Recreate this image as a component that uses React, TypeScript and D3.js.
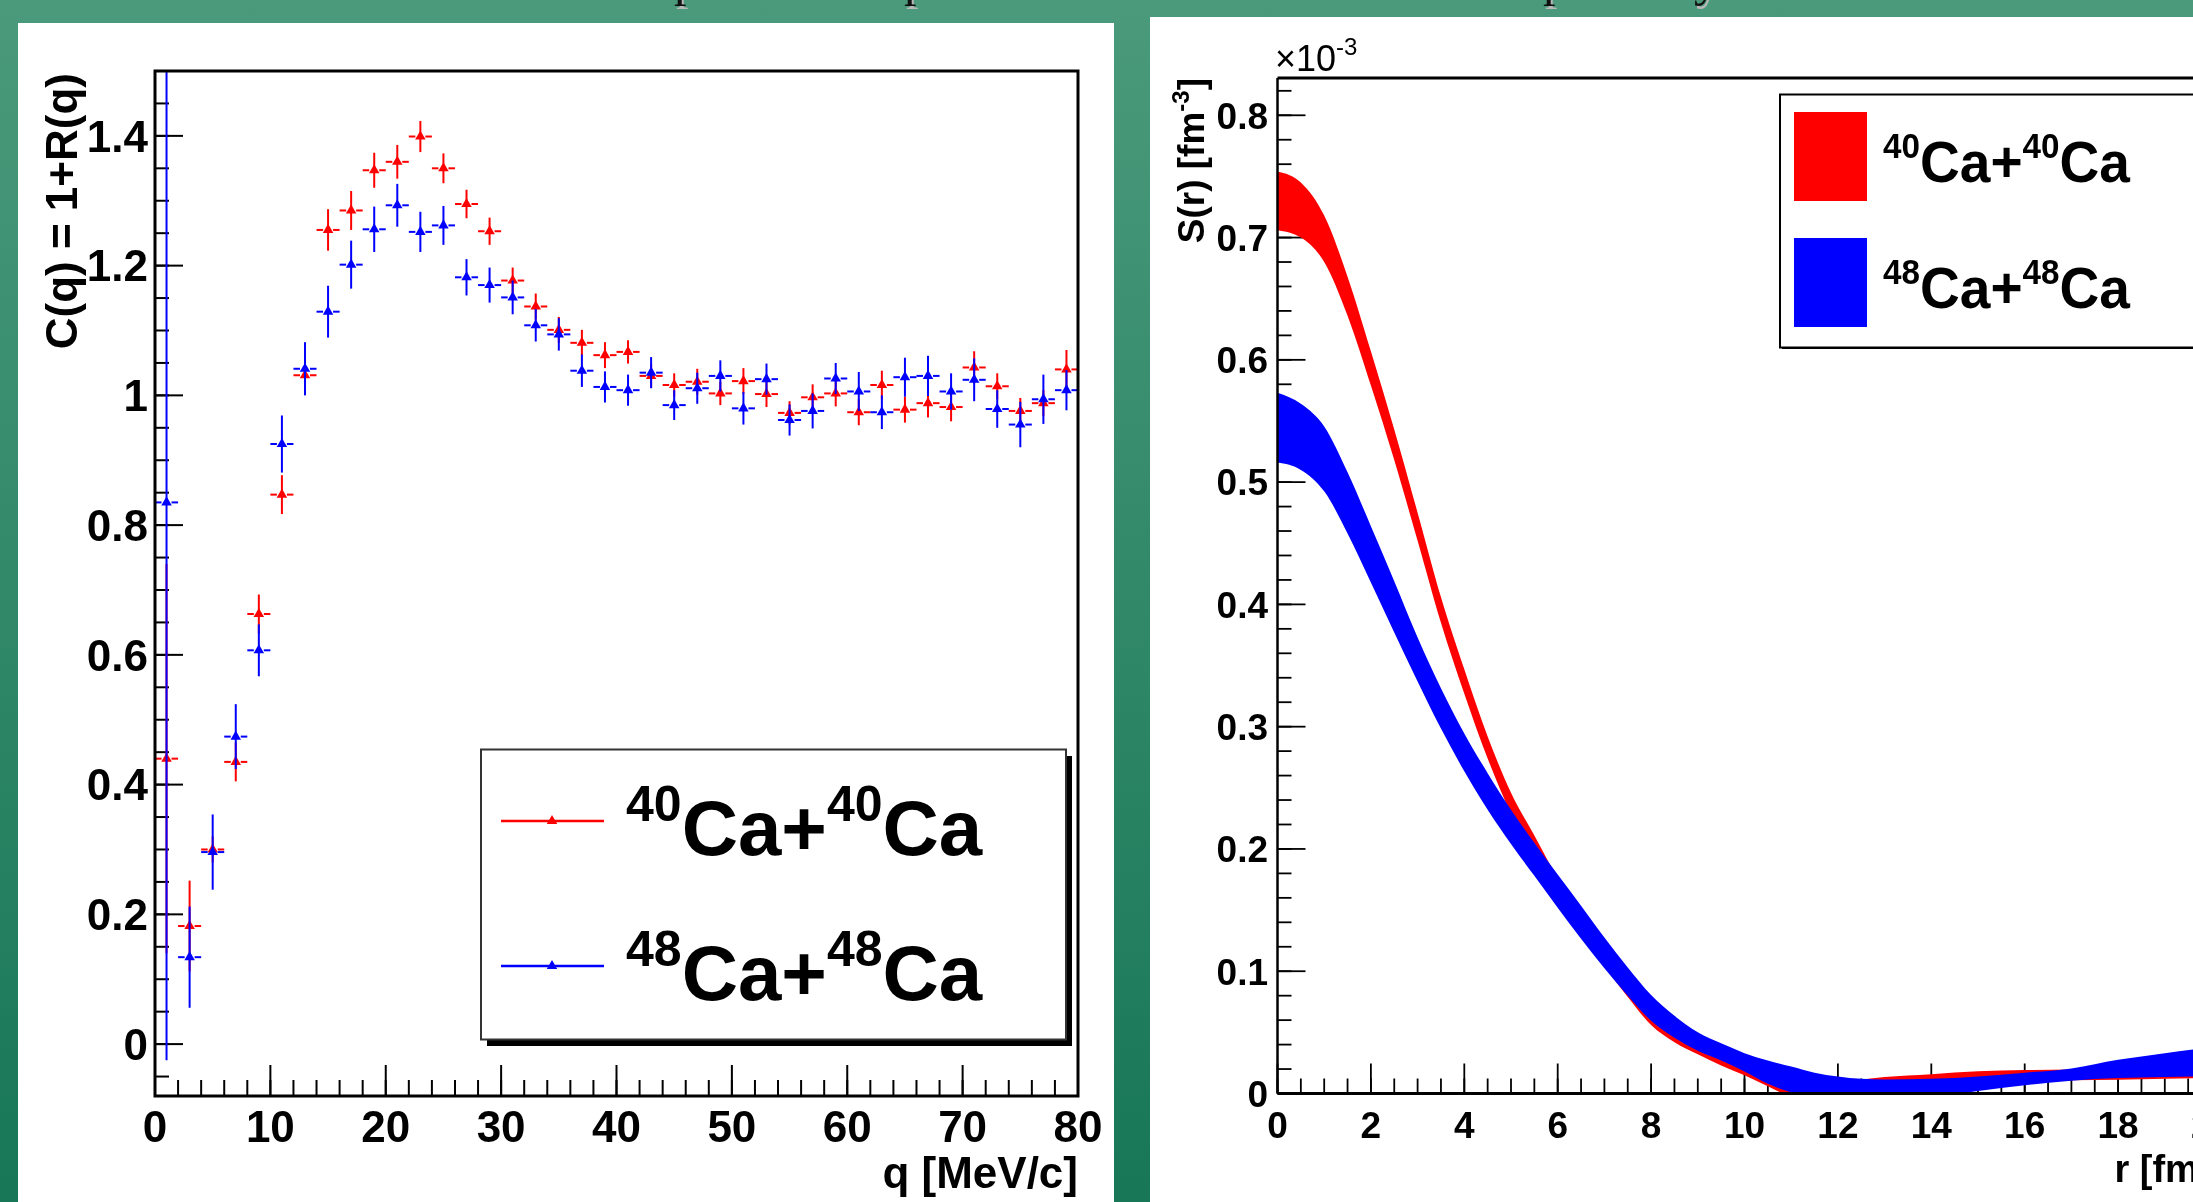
import React from "react";
import * as d3 from "d3";

// ---------------- Left panel data: correlation function C(q) ----------------
const qCenters = [1, 3, 5, 7, 9, 11, 13, 15, 17, 19, 21, 23, 25, 27, 29, 31, 33, 35, 37, 39,
  41, 43, 45, 47, 49, 51, 53, 55, 57, 59, 61, 63, 65, 67, 69, 71, 73, 75, 77, 79];
const qHalfWidth = 1;

const ca40 = [0.44, 0.182, 0.30, 0.435, 0.663, 0.847, 1.031, 1.255, 1.285, 1.347, 1.360, 1.399, 1.350,
  1.295, 1.253, 1.177, 1.137, 1.101, 1.081, 1.062, 1.067, 1.030, 1.016, 1.021, 1.003, 1.022, 1.002,
  0.973, 0.997, 1.003, 0.974, 1.016, 0.978, 0.988, 0.982, 1.043, 1.014, 0.976, 0.988, 1.040];
const ca40Err = [0.30, 0.07, 0.02, 0.03, 0.03, 0.03, 0.02, 0.032, 0.03, 0.027, 0.026, 0.024, 0.023,
  0.022, 0.021, 0.02, 0.02, 0.02, 0.02, 0.02, 0.018, 0.018, 0.018, 0.02, 0.018, 0.02, 0.02,
  0.018, 0.02, 0.02, 0.02, 0.022, 0.02, 0.022, 0.022, 0.025, 0.02, 0.02, 0.02, 0.03];

const ca48 = [0.835, 0.134, 0.296, 0.474, 0.607, 0.925, 1.041, 1.129, 1.2015, 1.256, 1.293, 1.252, 1.262,
  1.182, 1.17, 1.151, 1.108, 1.094, 1.038, 1.013, 1.008, 1.035, 0.985, 1.011, 1.030, 0.980, 1.025,
  0.962, 0.976, 1.026, 1.006, 0.974, 1.028, 1.030, 1.006, 1.024, 0.979, 0.955, 0.994, 1.008];
const ca48Err = [0.86, 0.078, 0.058, 0.05, 0.04, 0.044, 0.041, 0.04, 0.037, 0.035, 0.033, 0.031, 0.03,
  0.028, 0.027, 0.026, 0.025, 0.025, 0.025, 0.024, 0.024, 0.024, 0.023, 0.024, 0.024, 0.025, 0.024,
  0.024, 0.027, 0.024, 0.03, 0.026, 0.03, 0.031, 0.028, 0.033, 0.029, 0.035, 0.038, 0.031];

const leftYTicks = [0, 0.2, 0.4, 0.6, 0.8, 1, 1.2, 1.4];
const leftXTicks = [0, 10, 20, 30, 40, 50, 60, 70, 80];

// ---------------- Right panel data: source function S(r) bands (units of 1e-3 fm^-3) ----------------
const rGrid = [0, 0.5, 1, 1.5, 2, 2.5, 3, 3.5, 4, 4.5, 5, 5.5, 6, 6.5, 7, 7.5, 8, 8.5, 9, 9.5,
  10, 10.5, 11, 11.5, 12, 12.5, 13, 14, 15, 16, 17, 18, 19, 20];
const s40Low = [0.706, 0.700, 0.680, 0.636, 0.579, 0.518, 0.452, 0.385, 0.327, 0.274, 0.229, 0.195,
  0.161, 0.132, 0.104, 0.079, 0.056, 0.042, 0.032, 0.023, 0.015, 0.006, -0.002, -0.003, -0.001, 0.002,
  0.006, 0.009, 0.0105, 0.011, 0.0108, 0.0112, 0.012, 0.0128];
const s40High = [0.754, 0.745, 0.718, 0.668, 0.607, 0.543, 0.475, 0.406, 0.347, 0.292, 0.246, 0.211,
  0.176, 0.147, 0.118, 0.093, 0.070, 0.054, 0.043, 0.033, 0.024, 0.015, 0.008, 0.007, 0.009, 0.0115,
  0.0135, 0.0158, 0.0182, 0.0192, 0.0196, 0.0200, 0.0205, 0.021];
const s48Low = [0.516, 0.510, 0.4925, 0.458, 0.418, 0.377, 0.337, 0.2985, 0.2635, 0.232, 0.204, 0.178,
  0.152, 0.1265, 0.1025, 0.080, 0.0595, 0.0455, 0.035, 0.027, 0.018, 0.008, 0.001, -0.003, -0.005, -0.005,
  -0.005, -0.003, 0.002, 0.0068, 0.0105, 0.0126, 0.0135, 0.0142];
const s48High = [0.573, 0.564, 0.5455, 0.508, 0.464, 0.419, 0.373, 0.3315, 0.2945, 0.262, 0.232, 0.205,
  0.179, 0.1535, 0.1275, 0.103, 0.0805, 0.0635, 0.050, 0.041, 0.033, 0.027, 0.022, 0.017, 0.0139, 0.012,
  0.0115, 0.012, 0.014, 0.017, 0.0205, 0.0275, 0.033, 0.038];

const rightYTicks = [0, 0.1, 0.2, 0.3, 0.4, 0.5, 0.6, 0.7, 0.8];
const rightXTicks = [0, 2, 4, 6, 8, 10, 12, 14, 16, 18, 20];

const seriesNames = ["40", "48"];
const RED = "#ff0000";
const BLUE = "#0000ff";
const FONT = "'Liberation Sans', Arial, Helvetica, sans-serif";

function IsotopeLabel({ x, y, a, big, small, raise, sx = 1 }: any) {
  return (
    <g transform={`translate(${x},${y}) scale(${sx},1)`}>
      <text x={0} y={0} fontFamily={FONT} fontWeight="bold" fontSize={big} fill="#000">
        <tspan fontSize={small} dy={-raise}>{a}</tspan>
        <tspan dy={raise}>Ca+</tspan>
        <tspan fontSize={small} dy={-raise}>{a}</tspan>
        <tspan dy={raise}>Ca</tspan>
      </text>
    </g>
  );
}

export default function App() {
  const W = 2193, H = 1202;

  // ---- left scales
  const xq = d3.scaleLinear().domain([0, 80]).range([155, 1078]);
  const yc = d3.scaleLinear().domain([-0.08, 1.5]).range([1096, 71]);
  const LF = { x0: 155, x1: 1078, y0: 71, y1: 1096 };

  // ---- right scales
  const xr = d3.scaleLinear().domain([0, 20]).range([1277.5, 2211.5]);
  const ys = d3.scaleLinear().domain([0, 0.83]).range([1093.5, 78.6]);
  const RF = { x0: 1277.5, x1: 2211.5, y0: 78, y1: 1093.5 };

  const tri = d3.symbol().type(d3.symbolTriangle).size(48);
  const triPath = tri() as string;

  const qMinor = d3.range(0, 80.01, 2);
  const cMinor = d3.range(-0.05, 1.5, 0.05);
  const rMinor = d3.range(0, 20.01, 0.5);
  const sMinor = d3.range(0, 0.831, 0.02);

  const bandArea = (lo: number[], hi: number[]) =>
    d3.area<number>()
      .x((_, i) => xr(rGrid[i]))
      .y0((_, i) => ys(lo[i]))
      .y1((_, i) => ys(hi[i]))
      .curve(d3.curveMonotoneX)(rGrid);

  const renderSeries = (vals: number[], errs: number[], color: string) => (
    <g>
      {qCenters.map((q, i) => {
        const cx = xq(q);
        const cy = yc(vals[i]);
        const gap = 5;
        return (
          <g key={i}>
            <line x1={cx} x2={cx} y1={yc(vals[i] - errs[i])} y2={yc(vals[i] + errs[i])}
              stroke={color} strokeWidth={2} />
            <line x1={xq(q - qHalfWidth)} x2={cx - gap} y1={cy} y2={cy} stroke={color} strokeWidth={2} />
            <line x1={cx + gap} x2={xq(q + qHalfWidth)} y1={cy} y2={cy} stroke={color} strokeWidth={2} />
            <path d={triPath} transform={`translate(${cx},${cy})`} fill={color} />
          </g>
        );
      })}
    </g>
  );

  const fmt = d3.format("~g");

  return (
    <svg width={W} height={H} style={{ position: "fixed", left: 0, top: 0, display: "block" }}>
      <defs>
        <linearGradient id="bg" x1="0" y1="0" x2="0" y2="1">
          <stop offset="0" stopColor="#4a9a7b" />
          <stop offset="1" stopColor="#177757" />
        </linearGradient>
        <clipPath id="lclip">
          <rect x={LF.x0} y={LF.y0} width={LF.x1 - LF.x0} height={LF.y1 - LF.y0} />
        </clipPath>
        <clipPath id="rclip">
          <rect x={RF.x0} y={RF.y0} width={RF.x1 - RF.x0} height={RF.y1 - RF.y0} />
        </clipPath>
      </defs>
      <rect x={0} y={0} width={W} height={H} fill="url(#bg)" />

      {/* slide title remnants (descenders of the slide heading above the crop) */}
      <g fontFamily="'Liberation Serif', 'DejaVu Serif', serif" fontSize={50}>
        {[["p", 674], ["p", 904], ["p", 1543], ["y", 1694]].map(([c, x], i) => (
          <g key={i}>
            <text x={(x as number) + 2} y={-2} fill="#b8b8b8">{c}</text>
            <text x={x as number} y={-5} fill="#111">{c}</text>
          </g>
        ))}
      </g>

      {/* panels */}
      <rect x={18} y={23} width={1096} height={1200} fill="#fff" />
      <rect x={1150} y={17} width={1100} height={1200} fill="#fff" />

      {/* ================= LEFT PANEL ================= */}
      <g>
        {cMinor.map((v, i) => (
          <line key={"cm" + i} x1={LF.x0} x2={LF.x0 + 14} y1={yc(v)} y2={yc(v)} stroke="#000" strokeWidth={2} />
        ))}
        {leftYTicks.map((v) => (
          <line key={"cM" + v} x1={LF.x0} x2={LF.x0 + 28} y1={yc(v)} y2={yc(v)} stroke="#000" strokeWidth={2} />
        ))}
        {qMinor.map((v, i) => (
          <line key={"qm" + i} x1={xq(v)} x2={xq(v)} y1={LF.y1} y2={LF.y1 - 16} stroke="#000" strokeWidth={2} />
        ))}
        {leftXTicks.map((v) => (
          <line key={"qM" + v} x1={xq(v)} x2={xq(v)} y1={LF.y1} y2={LF.y1 - 31} stroke="#000" strokeWidth={2} />
        ))}

        <g clipPath="url(#lclip)">
          {renderSeries(ca40, ca40Err, RED)}
          {renderSeries(ca48, ca48Err, BLUE)}
        </g>

        <rect x={LF.x0} y={LF.y0} width={LF.x1 - LF.x0} height={LF.y1 - LF.y0} fill="none" stroke="#000" strokeWidth={3} />

        {leftYTicks.map((v) => (
          <text key={"yl" + v} x={148} y={yc(v)} dy="0.36em" textAnchor="end" fontFamily={FONT}
            fontWeight="bold" fontSize={44}>{fmt(v)}</text>
        ))}
        {leftXTicks.map((v) => (
          <text key={"xl" + v} x={xq(v)} y={1142} textAnchor="middle" fontFamily={FONT}
            fontWeight="bold" fontSize={44}>{v}</text>
        ))}
        <text x={LF.x1} y={1188} textAnchor="end" fontFamily={FONT} fontWeight="bold" fontSize={44}>q [MeV/c]</text>
        <text transform={`translate(77,${LF.y0 + 2}) rotate(-90)`} textAnchor="end" fontFamily={FONT}
          fontWeight="bold" fontSize={44}>C(q) = 1+R(q)</text>

        {/* legend */}
        <rect x={487} y={756} width={585} height={290} fill="#000" />
        <rect x={481} y={749.5} width={585} height={290} fill="#fff" stroke="#333" strokeWidth={2} />
        {[RED, BLUE].map((c, i) => {
          const ly = i === 0 ? 821 : 966;
          return (
            <g key={c}>
              <line x1={501} x2={604} y1={ly} y2={ly} stroke={c} strokeWidth={2.5} />
              <path d={triPath} transform={`translate(552,${ly})`} fill={c} />
              <IsotopeLabel x={626} y={i === 0 ? 855 : 1000} a={seriesNames[i]} big={78} small={50} raise={34} />
            </g>
          );
        })}
      </g>

      {/* ================= RIGHT PANEL ================= */}
      <g>
        {sMinor.map((v, i) => (
          <line key={"sm" + i} x1={RF.x0} x2={RF.x0 + 14} y1={ys(v)} y2={ys(v)} stroke="#000" strokeWidth={1.8} />
        ))}
        {rightYTicks.map((v) => (
          <line key={"sM" + v} x1={RF.x0} x2={RF.x0 + 28} y1={ys(v)} y2={ys(v)} stroke="#000" strokeWidth={1.8} />
        ))}
        {rMinor.map((v, i) => (
          <line key={"rm" + i} x1={xr(v)} x2={xr(v)} y1={RF.y1} y2={RF.y1 - 15} stroke="#000" strokeWidth={1.8} />
        ))}
        {rightXTicks.map((v) => (
          <line key={"rM" + v} x1={xr(v)} x2={xr(v)} y1={RF.y1} y2={RF.y1 - 30} stroke="#000" strokeWidth={1.8} />
        ))}

        <g clipPath="url(#rclip)">
          <path d={bandArea(s40Low, s40High) as string} fill={RED} />
          <path d={bandArea(s48Low, s48High) as string} fill={BLUE} />
        </g>

        <line x1={RF.x0} x2={RF.x0} y1={RF.y0} y2={RF.y1} stroke="#000" strokeWidth={2.5} />
        <line x1={RF.x0} x2={RF.x1} y1={RF.y0} y2={RF.y0} stroke="#000" strokeWidth={3} />
        <line x1={RF.x1} x2={RF.x1} y1={RF.y0} y2={RF.y1} stroke="#000" strokeWidth={2.5} />
        <line x1={RF.x0} x2={RF.x1} y1={RF.y1} y2={RF.y1} stroke="#000" strokeWidth={3} />

        {rightYTicks.map((v) => (
          <text key={"ryl" + v} x={1268} y={ys(v)} dy="0.36em" textAnchor="end" fontFamily={FONT}
            fontWeight="bold" fontSize={37}>{fmt(v)}</text>
        ))}
        {rightXTicks.map((v) => (
          <text key={"rxl" + v} x={xr(v)} y={1138} textAnchor="middle" fontFamily={FONT}
            fontWeight="bold" fontSize={37}>{v}</text>
        ))}
        <text x={RF.x1} y={1182} textAnchor="end" fontFamily={FONT} fontWeight="bold" fontSize={38}>r [fm]</text>
        <text transform={`translate(1204,${RF.y0}) rotate(-90)`} textAnchor="end" fontFamily={FONT}
          fontWeight="bold" fontSize={37}>
          S(r) [fm<tspan fontSize={24} dy={-15}>-3</tspan><tspan dy={15}>]</tspan>
        </text>
        <text x={1275} y={71} fontFamily={FONT} fontSize={36}>
          ×10<tspan fontSize={24} dy={-16}>-3</tspan>
        </text>

        {/* legend */}
        <rect x={1780} y={94.5} width={600} height={253} fill="#fff" stroke="#000" strokeWidth={2} />
        <line x1={1782} x2={2300} y1={348} y2={348} stroke="#000" strokeWidth={2} />
        <rect x={1794} y={112} width={73} height={89} fill={RED} />
        <rect x={1794} y={238} width={73} height={89} fill={BLUE} />
        <IsotopeLabel x={1883} y={182} a={seriesNames[0]} big={58} small={35} raise={24} sx={0.95} />
        <IsotopeLabel x={1883} y={308} a={seriesNames[1]} big={58} small={35} raise={24} sx={0.95} />
      </g>
    </svg>
  );
}
